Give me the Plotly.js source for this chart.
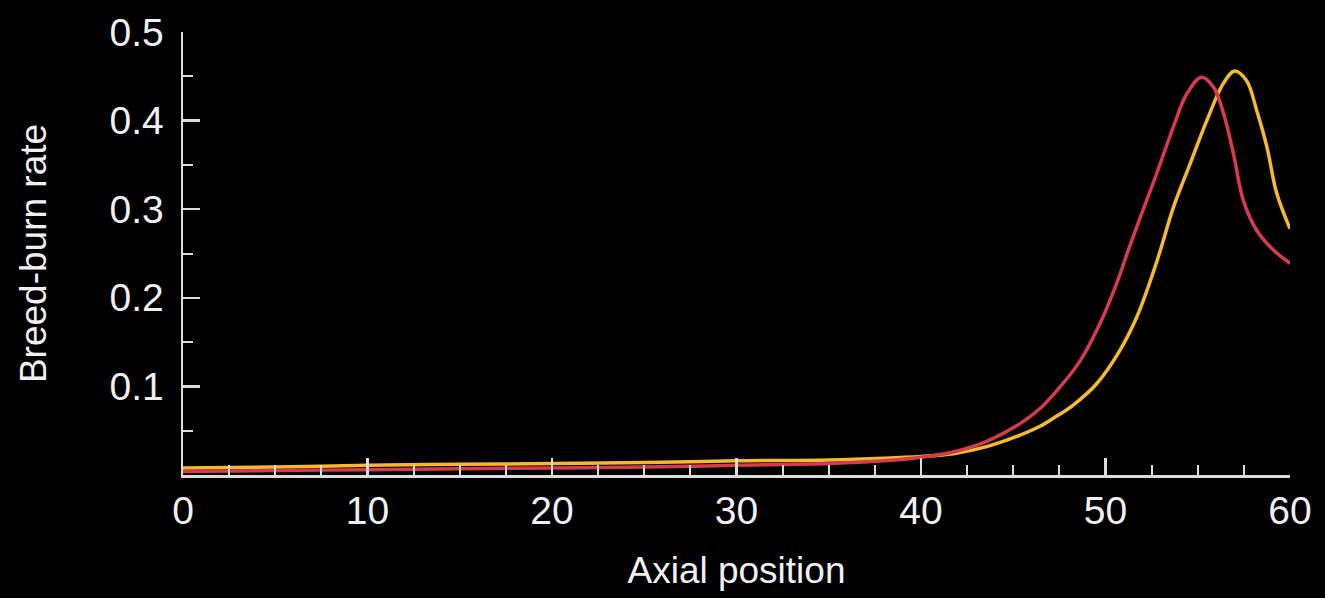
<!DOCTYPE html>
<html>
<head>
<meta charset="utf-8">
<script src="https://cdn.plot.ly/plotly-3.0.1.min.js"></script>
<style>html,body{margin:0;padding:0;background:#000;}#chart{width:1325px;height:598px;}</style>
</head>
<body>
<div id="chart"></div>
<script>
const redX = [0,5,10,15,20,25,30,35,38,40,41.75,43.56,45.37,46.45,47.35,48.6,49.7,50.6,51.24,51.87,52.77,53.68,54.4,55.2,55.85,56.4,56.93,57.47,58.2,59.1,60];
const redY = [0.004,0.005,0.006,0.007,0.008,0.009,0.011,0.013,0.016,0.020,0.026,0.038,0.058,0.075,0.095,0.128,0.171,0.216,0.254,0.290,0.340,0.393,0.430,0.449,0.438,0.408,0.363,0.310,0.276,0.254,0.239];
const yellowX = [0,5,10,15,20,25,30,35,38,40,41.75,43.56,45.37,46.45,47.17,48.25,49.52,50.79,51.69,52.41,52.95,53.68,54.58,55.49,56.39,57.0,57.65,58.2,58.75,59.28,60];
const yellowY = [0.008,0.009,0.011,0.012,0.013,0.014,0.016,0.017,0.019,0.021,0.024,0.032,0.045,0.055,0.064,0.079,0.103,0.141,0.178,0.218,0.252,0.302,0.351,0.400,0.442,0.456,0.445,0.411,0.370,0.318,0.278];
const xTicks = [0,10,20,30,40,50,60];
const yTicks = [0.1,0.2,0.3,0.4,0.5];
const yTickText = ["0.1","0.2","0.3","0.4","0.5"];

const tickFont = {family: '"Liberation Sans", Arial, sans-serif', color: '#f0f0f0', size: 39};
const titleFont = {family: '"Liberation Sans", Arial, sans-serif', color: '#f0f0f0', size: 37};
const data = [
  {x: yellowX, y: yellowY, mode: 'lines', line: {color: '#f6b92e', width: 3.5, shape: 'spline', smoothing: 1}, hoverinfo: 'skip'},
  {x: redX, y: redY, mode: 'lines', line: {color: '#d63a4b', width: 3.5, shape: 'spline', smoothing: 1}, hoverinfo: 'skip'}
];
const axisCommon = {
  showgrid: false, zeroline: false, showline: true, linecolor: '#dcdcdc', linewidth: 2.5,
  ticks: 'inside', ticklen: 17, tickwidth: 2.5, tickcolor: '#dcdcdc', tickfont: tickFont
};
const layout = {
  width: 1325, height: 598,
  paper_bgcolor: '#000', plot_bgcolor: '#000',
  showlegend: false,
  margin: {l: 183, r: 35, t: 32, b: 123},
  xaxis: Object.assign({}, axisCommon, {
    range: [0, 60], tickvals: xTicks, ticktext: xTicks.map(String),
    minor: {dtick: 2.5, tick0: 0, ticks: 'inside', ticklen: 10, tickwidth: 2, tickcolor: '#dcdcdc'},
    title: {text: 'Axial position', font: titleFont, standoff: 26}
  }),
  yaxis: Object.assign({}, axisCommon, {
    range: [0, 0.5], tickvals: yTicks, ticktext: yTickText, ticklabelstandoff: 9,
    minor: {dtick: 0.05, tick0: 0, ticks: 'inside', ticklen: 10, tickwidth: 2, tickcolor: '#dcdcdc'},
    title: {text: 'Breed-burn rate', font: titleFont, standoff: 52}
  })
};
Plotly.newPlot('chart', data, layout, {displayModeBar: false, staticPlot: true});
</script>
</body>
</html>
